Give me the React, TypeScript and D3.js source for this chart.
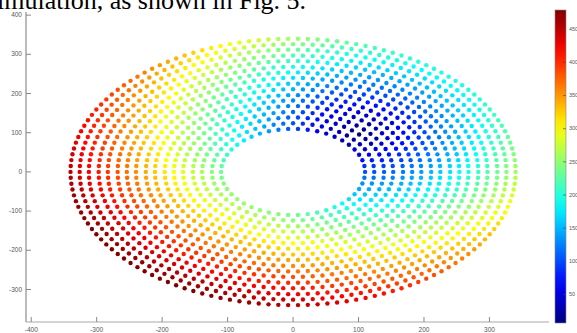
import React from 'react'
import * as d3 from 'd3'

// ring layout: radius of each ring and number of dots on it
const ringRadii = [110, 124, 139, 153, 168, 182, 196, 211, 225, 240, 254, 268, 283, 297, 312, 326, 340]
const ringCounts = [46, 52, 58, 64, 70, 76, 82, 88, 94, 100, 106, 112, 118, 124, 130, 136, 142]
// colour = distance of each dot from this reference point
const source = [100, 102]
const colorDomain = [7, 479]

const xTicks = [-400, -300, -200, -100, 0, 100, 200, 300]
const yTicks = [-300, -200, -100, 0, 100, 200, 300, 400]
const cbTicks = [50, 100, 150, 200, 250, 300, 350, 400, 450]

const jet = (t: number) => {
  const c = (v: number) => Math.round(255 * Math.max(0, Math.min(1, v)))
  return `rgb(${c(1.5 - Math.abs(4 * t - 3))},${c(1.5 - Math.abs(4 * t - 2))},${c(1.5 - Math.abs(4 * t - 1))})`
}

const points: { x: number; y: number; v: number }[] = []
ringRadii.forEach((r, i) => {
  const n = ringCounts[i]
  for (let k = 0; k < n; k++) {
    const a = (2 * Math.PI * k) / n
    const x = r * Math.cos(a)
    const y = r * Math.sin(a)
    points.push({ x, y, v: Math.hypot(x - source[0], y - source[1]) })
  }
})

export default function App() {
  const width = 577
  const height = 333

  const xScale = d3.scaleLinear().domain([-408, 391]).range([26, 549])
  const yScale = d3.scaleLinear().domain([-383, 408]).range([322, 12])
  const cScale = d3.scaleLinear().domain(colorDomain).range([0, 1]).clamp(true)
  const cbScale = d3.scaleLinear().domain([colorDomain[1], colorDomain[0]]).range([10, 323])

  const stops = d3.range(0, 1.0001, 0.05)

  return (
    <svg width={width} height={height} style={{ position: 'absolute', left: 0, top: 0, background: '#fff' }}>
      <defs>
        <linearGradient id="jet" x1="0" y1="1" x2="0" y2="0">
          {stops.map((t, i) => (
            <stop key={i} offset={t} stopColor={jet(t)} />
          ))}
        </linearGradient>
      </defs>

      <text x={-3} y={9} fontFamily="Liberation Serif, Times New Roman, serif" fontSize={26} fill="#000">
        imulation, as shown in Fig. 5.
      </text>

      {/* axes */}
      <line x1={26} x2={26} y1={12} y2={322} stroke="#777" strokeWidth={1} />
      <line x1={26} x2={549} y1={322} y2={322} stroke="#aaa" strokeWidth={1.2} />
      {yTicks.map((t, i) => (
        <g key={i} transform={`translate(0,${yScale(t)})`}>
          <line x1={26} x2={31} stroke="#888" />
          <text x={22} dy=".32em" textAnchor="end" fontFamily="Liberation Sans, Arial, sans-serif" fontSize={6.5} fill="#555">
            {t}
          </text>
        </g>
      ))}
      {xTicks.map((t, i) => (
        <g key={i} transform={`translate(${xScale(t)},0)`}>
          <line y1={317} y2={322} stroke="#888" />
          <text y={332} textAnchor="middle" fontFamily="Liberation Sans, Arial, sans-serif" fontSize={6.5} fill="#555">
            {t}
          </text>
        </g>
      ))}

      {/* dots */}
      {points.map((d, i) => (
        <circle key={i} cx={xScale(d.x)} cy={yScale(d.y)} r={2.2} fill={jet(cScale(d.v))} />
      ))}

      {/* colorbar */}
      <rect x={555} y={10} width={11} height={313} fill="url(#jet)" stroke="#888" strokeWidth={0.6} />
      {cbTicks.map((t, i) => (
        <g key={i} transform={`translate(0,${cbScale(t)})`}>
          <line x1={563} x2={566} stroke="#444" strokeWidth={0.6} />
          <text x={569} dy=".32em" fontFamily="Liberation Sans, Arial, sans-serif" fontSize={5.5} fill="#555">
            {t}
          </text>
        </g>
      ))}
    </svg>
  )
}
